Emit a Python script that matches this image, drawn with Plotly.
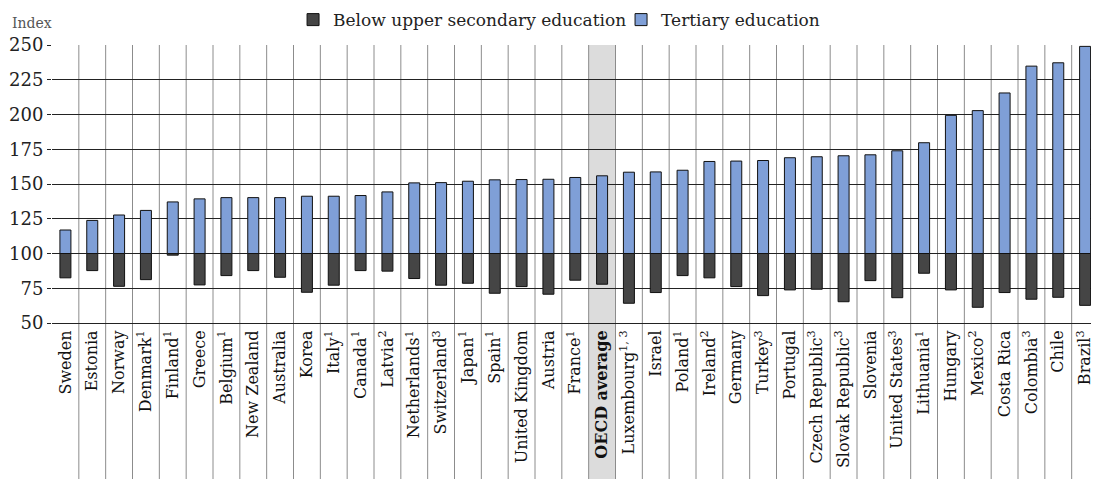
import plotly.graph_objects as go

countries = [
    "Sweden", "Estonia", "Norway", "Denmark<sup>1</sup>", "Finland<sup>1</sup>", "Greece",
    "Belgium<sup>1</sup>", "New Zealand", "Australia", "Korea", "Italy<sup>1</sup>",
    "Canada<sup>1</sup>", "Latvia<sup>2</sup>", "Netherlands<sup>1</sup>", "Switzerland<sup>3</sup>",
    "Japan<sup>1</sup>", "Spain<sup>1</sup>", "United Kingdom", "Austria", "France<sup>1</sup>",
    "<b>OECD average</b>", "Luxembourg<sup>1, 3</sup>", "Israel", "Poland<sup>1</sup>",
    "Ireland<sup>2</sup>", "Germany", "Turkey<sup>3</sup>", "Portugal", "Czech Republic<sup>3</sup>",
    "Slovak Republic<sup>3</sup>", "Slovenia", "United States<sup>3</sup>", "Lithuania<sup>1</sup>",
    "Hungary", "Mexico<sup>2</sup>", "Costa Rica", "Colombia<sup>3</sup>", "Chile", "Brazil<sup>3</sup>",
]

below_upper_secondary = [
    82.5, 87.7, 76.4, 81.2, 98.8, 77.4, 84.1, 87.7, 82.9, 72.1, 77.2, 87.7, 87.3,
    82.0, 77.2, 78.6, 71.4, 76.2, 70.7, 80.8, 77.9, 64.2, 71.9, 84.1, 82.5, 76.2,
    69.7, 73.8, 74.3, 65.3, 80.5, 68.2, 85.8, 73.8, 61.3, 71.9, 67.1, 68.5, 62.7,
]

tertiary = [
    116.9, 123.8, 127.7, 131.0, 137.1, 139.3, 140.2, 140.2, 140.2, 141.2, 141.2, 141.7, 144.3,
    150.8, 151.0, 152.0, 153.0, 153.2, 153.4, 154.7, 155.9, 158.5, 158.7, 159.9, 166.2, 166.5,
    166.9, 168.9, 169.6, 170.3, 171.0, 173.9, 179.7, 199.4, 202.8, 215.5, 234.8, 237.2, 249.0,
]

y_ticks = [50, 75, 100, 125, 150, 175, 200, 225, 250]
baseline = 100
oecd_index = 20

FONT = "DejaVu Serif"
x = list(range(len(countries)))

fig = go.Figure()
fig.add_trace(go.Bar(
    x=x, y=[v - baseline for v in below_upper_secondary], base=baseline,
    name="Below upper secondary education", width=0.41,
    marker=dict(color="#454545", line=dict(color="#111111", width=1)),
))
fig.add_trace(go.Bar(
    x=x, y=[v - baseline for v in tertiary], base=baseline,
    name="Tertiary education", width=0.41,
    marker=dict(color="#7F9FD7", line=dict(color="#111111", width=1)),
))

shapes = []
# OECD average highlight band
shapes.append(dict(type="rect", xref="x", yref="paper", x0=oecd_index - 0.5, x1=oecd_index + 0.5,
                   y0=-0.565, y1=1, fillcolor="#DCDCDC", line=dict(width=0), layer="below"))
# vertical separators
for k in range(len(countries) - 1):
    shapes.append(dict(type="line", xref="x", yref="paper", x0=k + 0.5, x1=k + 0.5,
                       y0=-0.565, y1=1, line=dict(color="#8C8C8C", width=1), layer="below"))

fig.update_layout(
    width=1094, height=479,
    margin=dict(l=52, r=0, t=45, b=156),
    paper_bgcolor="white", plot_bgcolor="rgba(0,0,0,0)",
    barmode="overlay",
    font=dict(family=FONT, color="#222222"),
    shapes=shapes,
    showlegend=True,
    legend=dict(orientation="h", x=0.232, y=1.025, xanchor="left", yanchor="bottom",
                font=dict(family=FONT, size=17, color="#222222"), itemwidth=30,
                entrywidth=283, entrywidthmode="pixels",
                traceorder="normal", bgcolor="rgba(0,0,0,0)"),
    annotations=[dict(text="Index", xref="paper", yref="paper", x=-0.04, y=1.0,
                      xanchor="left", yanchor="bottom", yshift=12, showarrow=False,
                      font=dict(family=FONT, size=14, color="#555555"))],
)

fig.update_xaxes(
    range=[-0.5, 38.22], tickmode="array", tickvals=x, ticktext=countries,
    tickangle=-90, showgrid=False, zeroline=False, ticks="",
    showline=True, linecolor="#222222", linewidth=1, ticklabeloverflow="allow",
    tickfont=dict(family=FONT, size=16, color="#111111"),
)
fig.update_yaxes(
    range=[50, 250], tickmode="array", tickvals=y_ticks,
    showgrid=True, gridcolor="#222222", gridwidth=1, zeroline=False,
    ticks="outside", ticklen=4, tickcolor="#222222",
    tickfont=dict(family=FONT, size=18, color="#222222"),
)

fig.write_html("out.html", config={"displayModeBar": False},
               post_script="document.body.style.margin='0';document.body.style.overflow='hidden';")
